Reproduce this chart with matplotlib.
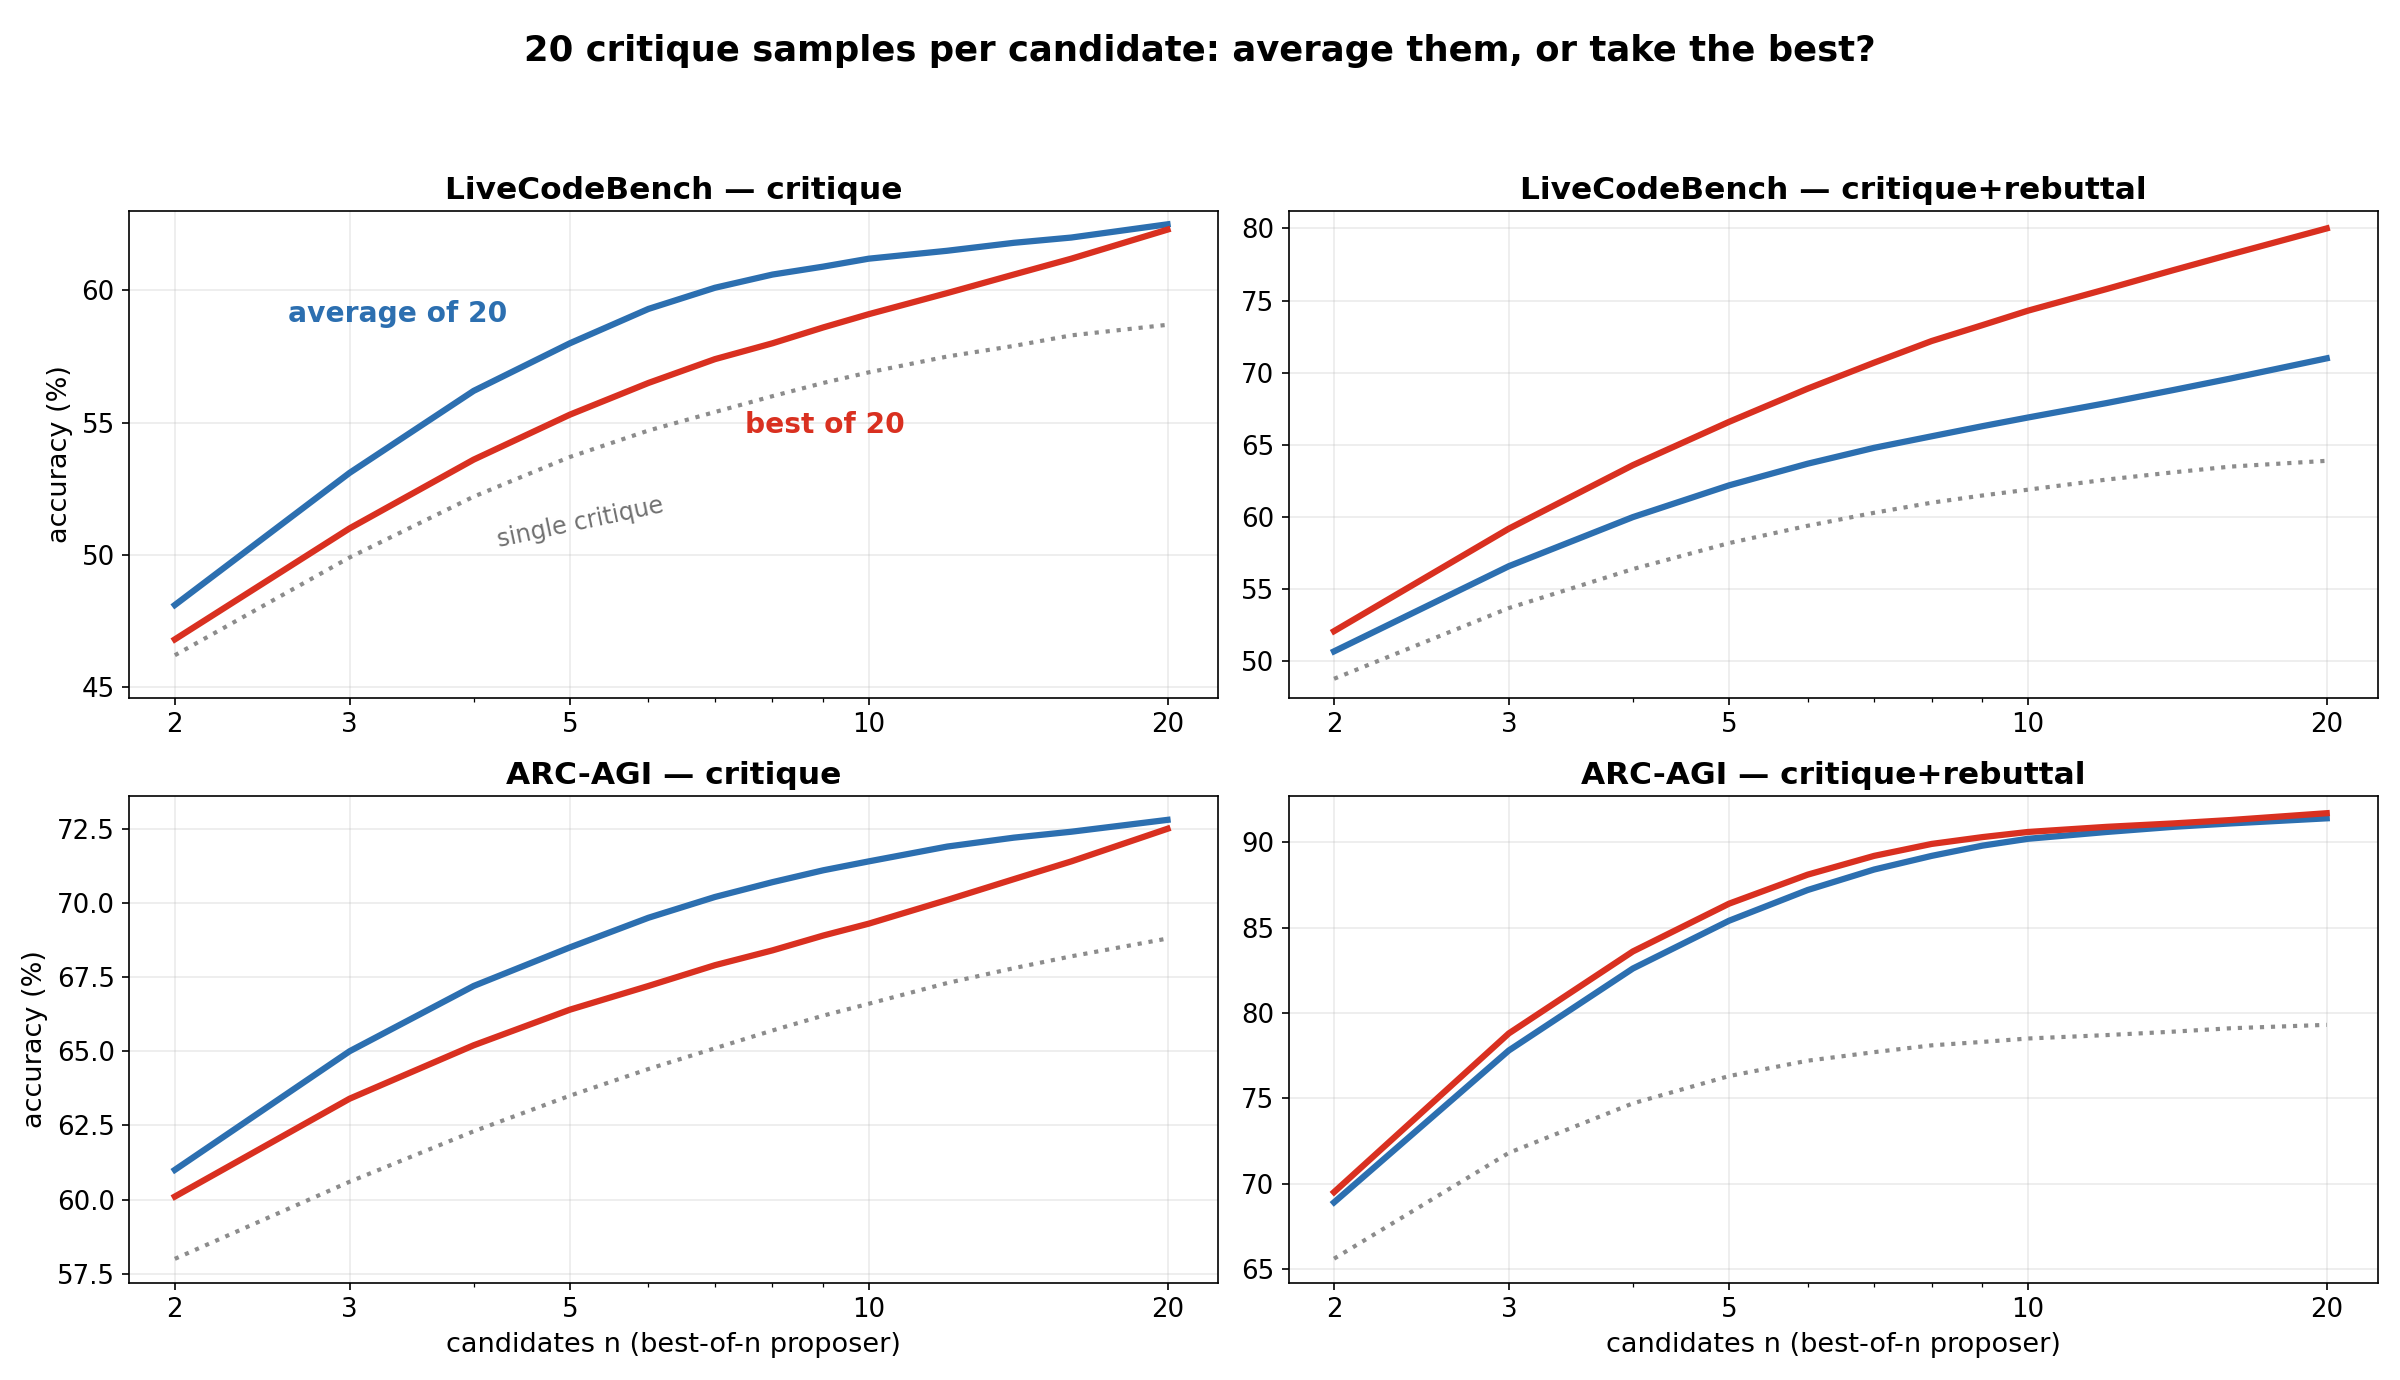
import numpy as np
import matplotlib
matplotlib.use("Agg")
import matplotlib.pyplot as plt
from matplotlib.ticker import FixedLocator, NullFormatter, MultipleLocator

n = [2, 3, 4, 5, 6, 7, 8, 9, 10, 12, 14, 16, 20]

lcb_c_avg = [48.1, 53.1, 56.2, 58.0, 59.3, 60.1, 60.6, 60.9, 61.2, 61.5, 61.8, 62.0, 62.5]
lcb_c_best = [46.8, 51.0, 53.6, 55.3, 56.5, 57.4, 58.0, 58.6, 59.1, 59.9, 60.6, 61.2, 62.3]
lcb_c_single = [46.2, 49.9, 52.2, 53.7, 54.7, 55.4, 56.0, 56.5, 56.9, 57.5, 57.9, 58.3, 58.7]

lcb_r_avg = [50.7, 56.6, 60.0, 62.2, 63.7, 64.8, 65.6, 66.3, 66.9, 67.9, 68.8, 69.6, 71.0]
lcb_r_best = [52.1, 59.2, 63.6, 66.6, 68.9, 70.7, 72.2, 73.3, 74.3, 75.8, 77.1, 78.2, 80.0]
lcb_r_single = [48.8, 53.7, 56.4, 58.2, 59.4, 60.3, 61.0, 61.5, 61.9, 62.6, 63.1, 63.5, 63.9]

arc_c_avg = [61.0, 65.0, 67.2, 68.5, 69.5, 70.2, 70.7, 71.1, 71.4, 71.9, 72.2, 72.4, 72.8]
arc_c_best = [60.1, 63.4, 65.2, 66.4, 67.2, 67.9, 68.4, 68.9, 69.3, 70.1, 70.8, 71.4, 72.5]
arc_c_single = [58.0, 60.6, 62.3, 63.5, 64.4, 65.1, 65.7, 66.2, 66.6, 67.3, 67.8, 68.2, 68.8]

arc_r_avg = [68.9, 77.8, 82.6, 85.4, 87.2, 88.4, 89.2, 89.8, 90.2, 90.6, 90.9, 91.1, 91.4]
arc_r_best = [69.5, 78.8, 83.6, 86.4, 88.1, 89.2, 89.9, 90.3, 90.6, 90.9, 91.1, 91.3, 91.7]
arc_r_single = [65.6, 71.8, 74.7, 76.3, 77.2, 77.7, 78.1, 78.3, 78.5, 78.7, 78.9, 79.1, 79.3]

panels = [
    ("LiveCodeBench — critique", lcb_c_avg, lcb_c_best, lcb_c_single),
    ("LiveCodeBench — critique+rebuttal", lcb_r_avg, lcb_r_best, lcb_r_single),
    ("ARC-AGI — critique", arc_c_avg, arc_c_best, arc_c_single),
    ("ARC-AGI — critique+rebuttal", arc_r_avg, arc_r_best, arc_r_single),
]

BLUE = "#2c6fb0"
RED = "#d93020"
GREY = "#8c8c8c"

fig, axes = plt.subplots(2, 2, figsize=(16, 9.2), dpi=150)
for i, (ax, (title, avg, best, single)) in enumerate(zip(axes.flat, panels)):
    ax.plot(n, single, ":", color=GREY, lw=2)
    ax.plot(n, avg, color=BLUE, lw=3)
    ax.plot(n, best, color=RED, lw=3)
    ax.set_xscale("log")
    ax.xaxis.set_major_locator(FixedLocator([2, 3, 5, 10, 20]))
    ax.set_xticklabels(["2", "3", "5", "10", "20"])
    ax.xaxis.set_minor_formatter(NullFormatter())
    ax.set_xlim(1.8, 22.5)
    ax.grid(True, which="major", alpha=0.25)
    ax.set_title(title, fontsize=15, fontweight="bold")
    ax.tick_params(labelsize=12.5)
    if i % 2 == 0:
        ax.set_ylabel("accuracy (%)", fontsize=13)
    if i >= 2:
        ax.set_xlabel("candidates n (best-of-n proposer)", fontsize=13)

ax = axes[0, 0]
ax.set_ylim(44.6, 63.0)
ax.yaxis.set_major_locator(MultipleLocator(5))
ax.text(2.6, 58.8, "average of 20", color=BLUE, fontsize=13.5, fontweight="bold")
ax.text(7.5, 54.6, "best of 20", color=RED, fontsize=13.5, fontweight="bold")
ax.text(4.2, 50.3, "single critique", color="#707070", fontsize=11.5, rotation=12)
axes[0, 1].set_ylim(47.5, 81.2)
axes[0, 1].yaxis.set_major_locator(MultipleLocator(5))
axes[1, 0].set_ylim(57.2, 73.6)
axes[1, 0].yaxis.set_major_locator(MultipleLocator(2.5))
axes[1, 1].set_ylim(64.2, 92.7)
axes[1, 1].yaxis.set_major_locator(MultipleLocator(5))

fig.suptitle("20 critique samples per candidate: average them, or take the best?",
             fontsize=17, fontweight="bold", y=0.975)
fig.tight_layout(rect=[0, 0, 1, 0.93])
fig.savefig("out.png")
